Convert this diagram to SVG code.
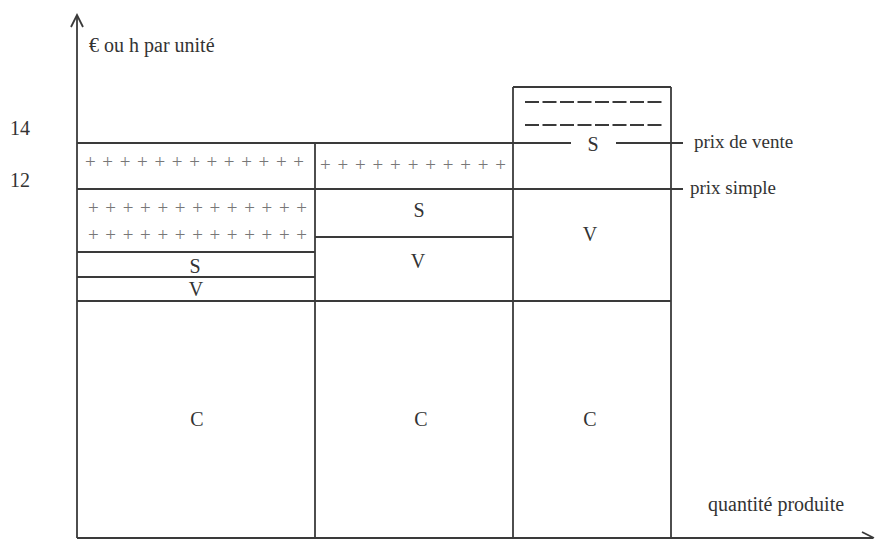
<svg xmlns="http://www.w3.org/2000/svg" width="875" height="540" viewBox="0 0 875 540">
<style>
.ln{stroke:#3a3a3a;stroke-width:1.8;fill:none}
.t{font-family:"Liberation Serif","Times New Roman",serif;font-size:20px;fill:#333}
.s{font-size:19px}
.c{text-anchor:middle}
.p{font-family:"Liberation Serif","Times New Roman",serif;font-size:19px;fill:#777}
.d{stroke:#3a3a3a;stroke-width:1.8;stroke-dasharray:14 3.5;fill:none}
</style>
<rect width="875" height="540" fill="#fff"/>
<g id="axes">
<line class="ln" x1="77" y1="538" x2="77" y2="16"/>
<polyline class="ln" points="71,27 77,15 83,27"/>
<line class="ln" x1="77" y1="538" x2="873" y2="538"/>
<polyline class="ln" points="862,532 874,538"/>
<text class="t" x="89" y="52">€ ou h par unité</text>
<text class="t" x="708" y="511">quantité produite</text>
<text class="t" x="10" y="135">14</text>
<text class="t" x="10" y="187">12</text>
</g>
<g id="connectors">
<line class="ln" x1="77" y1="143" x2="571" y2="143"/>
<line class="ln" x1="616" y1="143" x2="683" y2="143"/>
<line class="ln" x1="77" y1="189" x2="683" y2="189"/>
<line class="ln" x1="315" y1="143" x2="315" y2="538"/>
<line class="ln" x1="513" y1="87" x2="513" y2="538"/>
<line class="ln" x1="671" y1="87" x2="671" y2="538"/>
<line class="ln" x1="513" y1="87" x2="671" y2="87"/>
<line class="ln" x1="77" y1="252" x2="315" y2="252"/>
<line class="ln" x1="77" y1="277" x2="315" y2="277"/>
<line class="ln" x1="315" y1="237" x2="513" y2="237"/>
<line class="ln" x1="77" y1="301" x2="671" y2="301"/>
</g>
<g id="col1">
<text class="p" x="85" y="168" textLength="219" lengthAdjust="spacing">+++++++++++++</text>
<text class="p" x="88" y="214" textLength="219" lengthAdjust="spacing">+++++++++++++</text>
<text class="p" x="88" y="241" textLength="219" lengthAdjust="spacing">+++++++++++++</text>
<text class="t c" x="195" y="273">S</text>
<text class="t c" x="196" y="296">V</text>
<text class="t c" x="197" y="426">C</text>
</g>
<g id="col2">
<text class="p" x="320" y="171" textLength="186" lengthAdjust="spacing">+++++++++++</text>
<text class="t c" x="419" y="217">S</text>
<text class="t c" x="418" y="268">V</text>
<text class="t c" x="421" y="426">C</text>
</g>
<g id="col3">
<line class="d" x1="525" y1="102" x2="665" y2="102"/>
<line class="d" x1="525" y1="125" x2="665" y2="125"/>
<text class="t c" x="593" y="151">S</text>
<text class="t c" x="590" y="241">V</text>
<text class="t c" x="590" y="426">C</text>
</g>
<g id="labels">
<text class="t s" x="694" y="148">prix de vente</text>
<text class="t s" x="690" y="194">prix simple</text>
</g>
</svg>
